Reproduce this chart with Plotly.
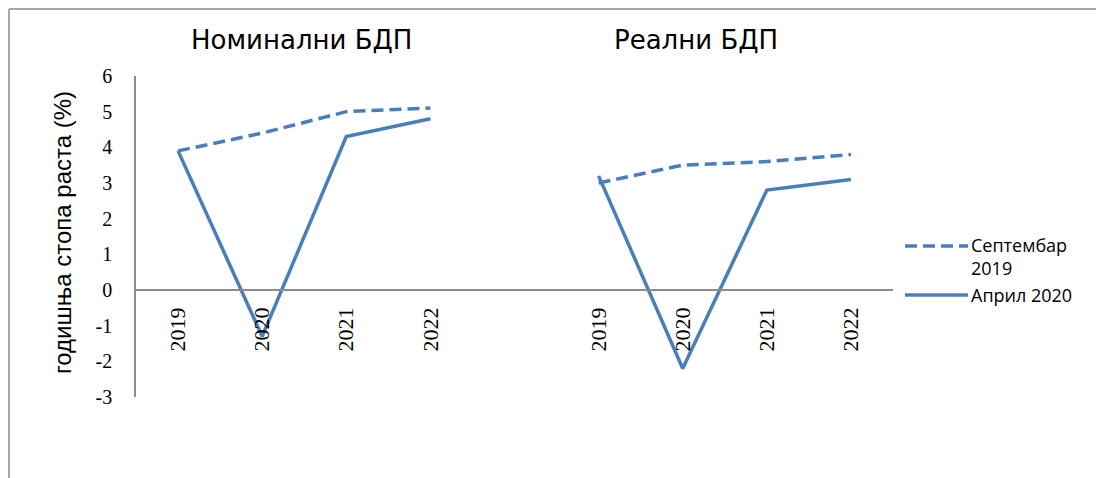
import plotly.graph_objects as go

categories = ["2019", "2020", "2021", "2022", "", "2019", "2020", "2021", "2022"]
sep_2019 = [3.9, 4.4, 5.0, 5.1, None, 3.0, 3.5, 3.6, 3.8]
apr_2020 = [3.9, -1.3, 4.3, 4.8, None, 3.2, -2.2, 2.8, 3.1]
y_ticks = [-3, -2, -1, 0, 1, 2, 3, 4, 5, 6]
y_labels = ["-3", "-2", "-1", "0", "1", "2", "3", "4", "5", "6"]
panel_titles = ["Номинални БДП", "Реални БДП"]
series_names = ["Септембар<br>2019", "Април 2020"]

LINE = "#4A7EBB"
GRID = "#8C8C8C"
SERIF = "Times New Roman, Liberation Serif, serif"
x = list(range(len(categories)))

# page body adds ~8px margin; work in screen pixels and shift
OFF = 8
W, H = 1104 - OFF, 478 - OFF
L, R, T, B = 136 - OFF, 893 - OFF, 76 - OFF, 397 - OFF
px = lambda v: (v - OFF - L) / (R - L)
py = lambda v: (B - (v - OFF)) / (B - T)

fig = go.Figure()
fig.add_trace(go.Scatter(x=x, y=sep_2019, mode="lines", name=series_names[0],
                         line=dict(color=LINE, width=3.5, dash="12px,6px"), connectgaps=False))
fig.add_trace(go.Scatter(x=x, y=apr_2020, mode="lines", name=series_names[1],
                         line=dict(color=LINE, width=3.5), connectgaps=False))

fig.update_xaxes(range=[-0.5, 8.5], tickvals=x, ticktext=categories, tickangle=-90,
                 anchor="free", position=1 / 3, showline=True, linecolor=GRID, linewidth=1.5,
                 showgrid=False, zeroline=False, ticks="", ticklabelstandoff=8,
                 tickfont=dict(family=SERIF, size=22, color="black"))
fig.update_yaxes(range=[-3, 6], tickvals=y_ticks, ticktext=y_labels, showline=True,
                 linecolor=GRID, linewidth=1.5, showgrid=False, zeroline=False, ticks="",
                 ticklabelstandoff=18, tickfont=dict(family=SERIF, size=20, color="black"))

annotations = [
    dict(text=panel_titles[0], x=px(301), y=py(40), font=dict(family="DejaVu Sans", size=26)),
    dict(text=panel_titles[1], x=px(696), y=py(40), font=dict(family="DejaVu Sans", size=26)),
    dict(text="годишња стопа раста (%)", x=px(62), y=py(233), textangle=-90,
         font=dict(family="Liberation Sans", size=24)),
    dict(text=series_names[0], x=px(969), y=py(231), xanchor="left", yanchor="top", align="left",
         font=dict(family="Open Sans", size=18)),
    dict(text=series_names[1], x=px(969), y=py(295), xanchor="left", align="left",
         font=dict(family="Open Sans", size=18)),
]
for a in annotations:
    a.setdefault("xanchor", "center")
    a.setdefault("yanchor", "middle")
    a.update(xref="paper", yref="paper", showarrow=False)
    a["font"]["color"] = "black"

shapes = [
    # chart border (top + left)
    dict(type="line", x0=px(9), x1=px(1120), y0=py(9), y1=py(9), line=dict(color="#A6A6A6", width=2)),
    dict(type="line", x0=px(9), x1=px(9), y0=py(9), y1=py(500), line=dict(color="#A6A6A6", width=2)),
    # legend keys
    dict(type="line", x0=px(905), x1=px(968), y0=py(246), y1=py(246),
         line=dict(color=LINE, width=3.5, dash="12px,6px")),
    dict(type="line", x0=px(905), x1=px(968), y0=py(295), y1=py(295),
         line=dict(color=LINE, width=3.5)),
]
for s in shapes:
    s.update(xref="paper", yref="paper")

fig.update_layout(width=W, height=H, margin=dict(l=L, r=W - R, t=T, b=H - B),
                  paper_bgcolor="white", plot_bgcolor="white", showlegend=False,
                  annotations=annotations, shapes=shapes)
fig.write_html("out.html")
